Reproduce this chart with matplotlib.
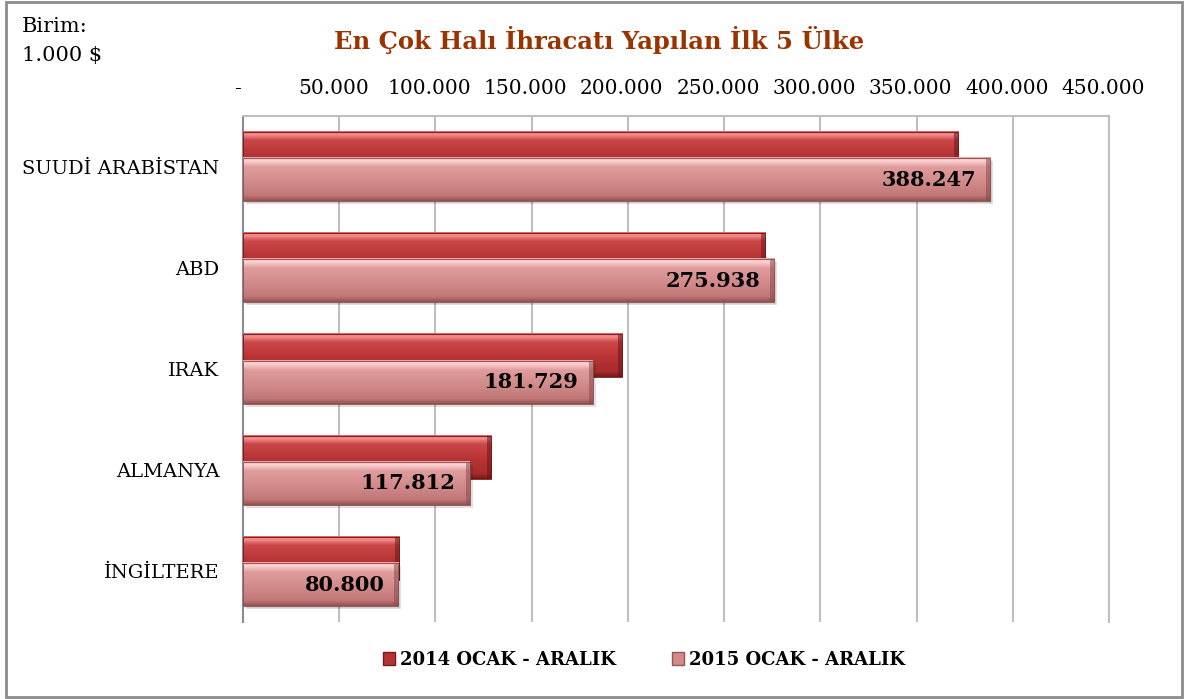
import numpy as np
import matplotlib
matplotlib.use("Agg")
import matplotlib.pyplot as plt
from matplotlib.patches import Rectangle, Patch
from matplotlib.colors import to_rgb
from matplotlib.transforms import ScaledTranslation

countries = ["SUUDİ ARABİSTAN", "ABD", "IRAK", "ALMANYA", "İNGİLTERE"]
values_2014 = [371600, 271300, 197000, 128900, 81100]
values_2015 = [388247, 275938, 181729, 117812, 80800]
series_names = ["2014 OCAK - ARALIK", "2015 OCAK - ARALIK"]
xticks = [0, 50000, 100000, 150000, 200000, 250000, 300000, 350000, 400000, 450000]
xtick_labels = ["-", "50.000", "100.000", "150.000", "200.000", "250.000",
                "300.000", "350.000", "400.000", "450.000"]
value_labels = ["388.247", "275.938", "181.729", "117.812", "80.800"]

plt.rcParams['font.family'] = ['DejaVu Serif']

fig = plt.figure(figsize=(11.88, 6.99), dpi=100)
ax = fig.add_axes([243/1188, 1-622/699, (1109-243)/1188, (622-116)/699])

# gradient profiles (top -> bottom)
prof_2014 = [(0.0, "#e05f5f"), (0.07, "#f59090"), (0.2, "#cc4848"),
             (0.55, "#b83434"), (0.88, "#a82c2c"), (1.0, "#781818")]
prof_2015 = [(0.0, "#e8a2a2"), (0.07, "#fdd6d6"), (0.22, "#e09c9c"),
             (0.55, "#d28b8b"), (0.88, "#c27777"), (1.0, "#935252")]


def make_grad(profile, n=64):
    pos = np.array([p for p, _ in profile])
    cols = np.array([to_rgb(c) for _, c in profile])
    t = np.linspace(0, 1, n)
    arr = np.stack([np.interp(t, pos, cols[:, k]) for k in range(3)], axis=-1)
    return arr[:, None, :]


grad14 = make_grad(prof_2014)
grad15 = make_grad(prof_2015)

h = 0.425
off = 0.13
xpx = 450000 / (1109 - 243)  # data units per pixel in x


def draw_bar(yc, w, grad, edge, z, shadow=False):
    top, bot = yc - h / 2, yc + h / 2
    if shadow:
        ax.add_patch(Rectangle((3 * xpx, top + 0.03), w, h, facecolor="#000000",
                               alpha=0.12, edgecolor="none", zorder=z - 0.5))
        ax.add_patch(Rectangle((1.5 * xpx, top + 0.015), w, h, facecolor="#000000",
                               alpha=0.08, edgecolor="none", zorder=z - 0.4))
    ax.imshow(grad, extent=(0, w, bot, top), aspect="auto", zorder=z,
              interpolation="bilinear")
    ax.add_patch(Rectangle((w - 4 * xpx, top), 4 * xpx, h, facecolor=edge,
                           alpha=0.55, edgecolor="none", zorder=z + 0.1))
    ax.add_patch(Rectangle((0, top), w, h, facecolor="none", edgecolor=edge,
                           linewidth=0.6, zorder=z + 0.2))


for i, (v14, v15, lab) in enumerate(zip(values_2014, values_2015, value_labels)):
    draw_bar(i - off, v14, grad14, "#6e1515", 3 + i * 0.01, shadow=False)
    draw_bar(i + off, v15, grad15, "#8a4a4a", 4 + i * 0.01, shadow=True)
    ax.text(v15 - 14 * xpx, i + off, lab, ha="right", va="center",
            fontsize=15, fontweight="bold", color="black", zorder=6)

ax.set_xlim(0, 450000)
ax.set_ylim(len(countries) - 0.5, -0.5)
ax.set_xticks(xticks)
ax.set_xticklabels(xtick_labels)
ax.set_yticks(range(len(countries)))
ax.set_yticklabels(countries)
ax.xaxis.tick_top()
ax.tick_params(axis="x", length=0, pad=13, labelsize=14.5, colors="#000000")
ax.tick_params(axis="y", length=0, pad=17, labelsize=14)
shift = ScaledTranslation(-6/100, 0, fig.dpi_scale_trans)
for lbl in ax.get_xticklabels():
    lbl.set_transform(lbl.get_transform() + shift)
ax.grid(axis="x", color="#bfbfbf", linewidth=1.5, zorder=0)
ax.set_axisbelow(True)
ax.spines["bottom"].set_visible(False)
ax.spines["top"].set_color("#bfbfbf")
ax.spines["top"].set_linewidth(1.5)
ax.spines["right"].set_color("#bfbfbf")
ax.spines["right"].set_linewidth(1.5)
ax.spines["left"].set_color("#8c8c8c")
ax.spines["left"].set_linewidth(1.5)

fig.text(599/1188, 1 - 40/699, "En Çok Halı İhracatı Yapılan İlk 5 Ülke", ha="center",
         va="center", fontsize=17.5, fontweight="bold", color="#993300")
fig.text(22/1188, 1 - 27/699, "Birim:", ha="left", va="center", fontsize=15)
fig.text(22/1188, 1 - 56/699, "1.000 $", ha="left", va="center", fontsize=15)

handles = [Patch(facecolor="#b53333", edgecolor="#7a1a1a"),
           Patch(facecolor="#d08a8a", edgecolor="#955555")]
fig.legend(handles, series_names, loc="center", bbox_to_anchor=(0.542, 1 - 660/699),
           ncol=2, frameon=False, handlelength=0.7, handleheight=0.7,
           handletextpad=0.25, columnspacing=3.1,
           prop={"weight": "bold", "size": 13})

fig.patches.append(Rectangle((6/1188, 2/699), 1 - 12/1188, 1 - 4/699,
                             transform=fig.transFigure, fill=False,
                             edgecolor="#8c8c8c", linewidth=2))

fig.savefig("out.png", dpi=100)
